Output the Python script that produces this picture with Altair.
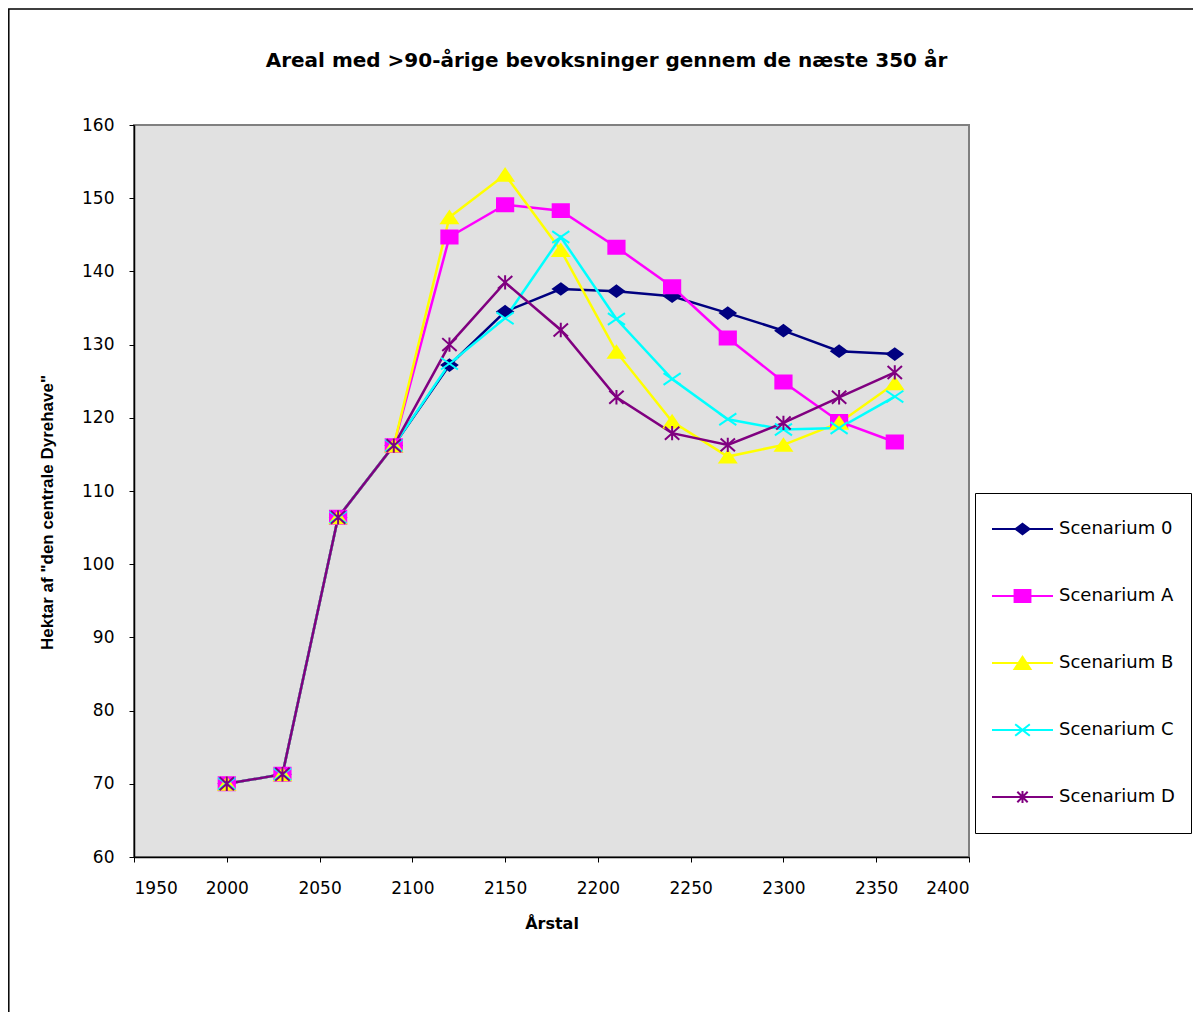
import altair as alt
import pandas as pd

years = [2000, 2030, 2060, 2090, 2120, 2150, 2180, 2210, 2240, 2270, 2300, 2330, 2360]
series_names = ["Scenarium 0", "Scenarium A", "Scenarium B", "Scenarium C", "Scenarium D"]
scen_0 = [70.0, 71.3, 106.4, 116.2, 127.2, 134.5, 137.6, 137.3, 136.6, 134.3, 131.9, 129.1, 128.7]
scen_A = [70.0, 71.3, 106.4, 116.2, 144.7, 149.1, 148.3, 143.3, 137.9, 130.9, 124.9, 119.5, 116.7]
scen_B = [70.0, 71.3, 106.4, 116.2, 147.4, 153.2, 142.9, 129.0, 119.5, 114.7, 116.3, 119.3, 124.7]
scen_C = [70.0, 71.3, 106.4, 116.2, 127.4, 133.6, 144.7, 133.5, 125.3, 119.8, 118.4, 118.6, 122.9]
scen_D = [70.0, 71.3, 106.4, 116.2, 130.0, 138.5, 132.0, 122.8, 117.9, 116.3, 119.3, 122.8, 126.2]
colors = ["#000080", "#FF00FF", "#FFFF00", "#00FFFF", "#800080"]

x_ticks = list(range(1950, 2401, 50))
y_ticks = list(range(60, 161, 10))

# marker shapes for the plot (unit box -1..1)
chart_paths = [
    "M0,-0.62L0.85,0L0,0.62L-0.85,0Z",
    "M-0.9,-0.72L0.9,-0.72L0.9,0.72L-0.9,0.72Z",
    "M0,-0.66L0.9,0.66L-0.9,0.66Z",
    "M-0.95,-0.65L0.95,0.65M-0.95,0.65L0.95,-0.65",
    "M-0.8,-0.72L0.8,0.72M-0.8,0.72L0.8,-0.72M0,-0.8L0,0.8",
]
# legend symbols: line + marker
legend_paths = [
    "M-1,0L1,0M0,-0.17L0.23,0L0,0.17L-0.23,0Z",
    "M-1,0L1,0M-0.26,-0.2L0.26,-0.2L0.26,0.2L-0.26,0.2Z",
    "M-1,0L1,0M0,-0.2L0.26,0.2L-0.26,0.2Z",
    "M-1,0L1,0M-0.24,-0.19L0.24,0.19M-0.24,0.19L0.24,-0.19",
    "M-1,0L1,0M-0.17,-0.17L0.17,0.17M-0.17,0.17L0.17,-0.17M0,-0.2L0,0.2",
]

rows = []
for i, (name, vals) in enumerate(zip(series_names, [scen_0, scen_A, scen_B, scen_C, scen_D])):
    for yr, v in zip(years, vals):
        rows.append({"year": yr, "value": v, "series": name, "idx": i})
df = pd.DataFrame(rows)

x_enc = alt.X(
    "year:Q",
    scale=alt.Scale(domain=[1950, 2400], nice=False, zero=False),
    axis=alt.Axis(values=x_ticks, format="d", title="Årstal", labelPadding=18,
                  titlePadding=19, titleFont="DejaVu Sans", titleFontSize=16,
                  titleFontWeight="bold"),
)
y_enc = alt.Y(
    "value:Q",
    scale=alt.Scale(domain=[60, 160], nice=False, zero=False),
    axis=alt.Axis(values=y_ticks, format="d", title='Hektar af "den centrale Dyrehave"',
                  labelPadding=15, titlePadding=25, titleFont="Liberation Sans",
                  titleFontSize=17, titleFontWeight="bold", titleY=387),
)

def color_scale():
    return alt.Scale(domain=series_names, range=colors)

frame = alt.Chart(alt.Data(values=[{"a": 1}])).mark_rect(
    fill="transparent", stroke="black", strokeWidth=1.5
).encode(
    x=alt.value(-125.2), y=alt.value(-116), x2=alt.value(1150), y2=alt.value(1000)
)

lines = alt.Chart(df).mark_line(strokeWidth=2.5).encode(
    x=x_enc, y=y_enc,
    stroke=alt.Stroke("series:N", scale=color_scale(), legend=None),
)

points = alt.Chart(df).mark_point(size=324, strokeWidth=2, opacity=1).encode(
    x=x_enc, y=y_enc,
    shape=alt.Shape("series:N", scale=alt.Scale(domain=series_names, range=chart_paths), legend=None),
    fill=alt.Fill("series:N", scale=color_scale(), legend=None),
    stroke=alt.Stroke("series:N", scale=color_scale(), legend=None),
    order=alt.Order("idx:Q"),
)

legend_layer = alt.Chart(df).transform_filter("false").mark_point(
    size=3721, strokeWidth=2, opacity=1
).encode(
    x=x_enc, y=y_enc,
    shape=alt.Shape("series:N", scale=alt.Scale(domain=series_names, range=legend_paths),
                    legend=alt.Legend(title=None)),
    fill=alt.Fill("series:N", scale=color_scale(), legend=alt.Legend(title=None)),
    stroke=alt.Stroke("series:N", scale=color_scale(), legend=alt.Legend(title=None)),
)

chart = alt.layer(frame, lines, points, legend_layer).resolve_scale(
    shape="independent", fill="independent", stroke="independent"
).properties(
    width=835,
    height=732,
    autosize=alt.AutoSizeParams(type="none"),
    padding={"left": 126, "top": 117, "right": 224, "bottom": 155},
    background="white",
    title=alt.Title(
        text="Areal med >90-årige bevoksninger gennem de næste 350 år",
        font="DejaVu Sans", fontSize=20, fontWeight="bold", color="black",
        anchor="middle", frame="group", dx=55, offset=-63,
    ),
).configure_view(
    fill="#E1E1E1", stroke="#808080", strokeWidth=2
).configure_axis(
    grid=False, domainColor="black", domainWidth=1.5, tickColor="black",
    tickSize=5, tickWidth=1, labelFont="DejaVu Sans", labelFontSize=17,
    labelColor="black", titleColor="black",
).configure_legend(
    orient="none", legendX=841, legendY=368, strokeColor="black", strokeWidth=1,
    fillColor="white", padding=16, cornerRadius=0, labelFont="DejaVu Sans",
    labelFontSize=18, labelColor="black", labelOffset=5, symbolSize=3721,
    symbolStrokeWidth=2, rowPadding=27, clipHeight=40,
)

chart.save("out.html", embed_options={"renderer": "svg", "actions": False})
